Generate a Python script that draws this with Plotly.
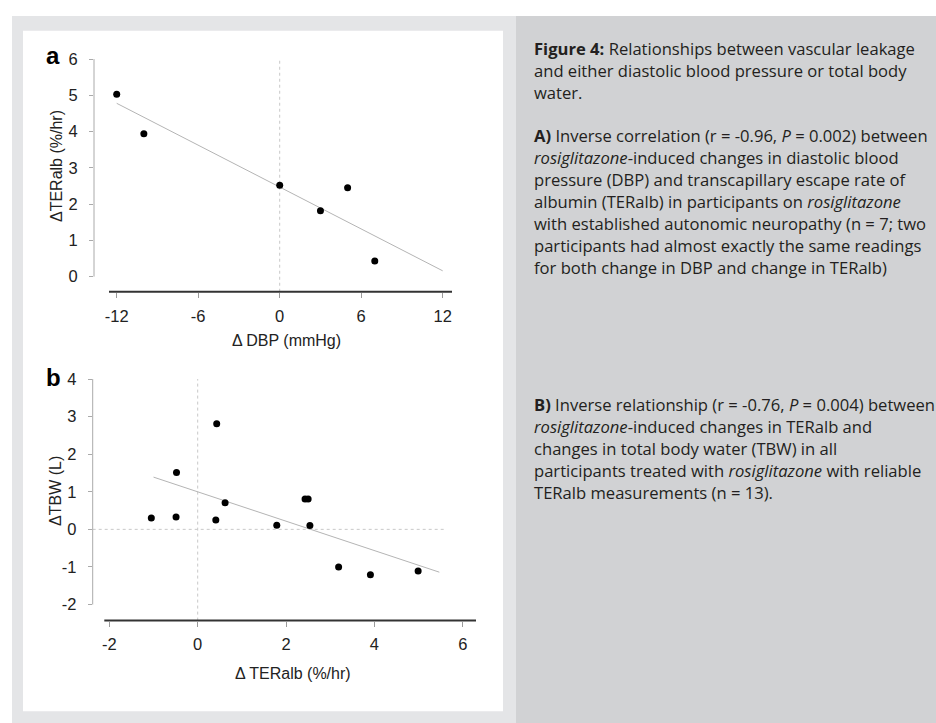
import plotly.graph_objects as go

# ---------------- data ----------------
# Panel a: change in DBP (mmHg) vs change in TERalb (%/hr)
dbp_change = [-12, -10, 0, 3, 5, 7]
teralb_change_a = [5.03, 3.94, 2.52, 1.82, 2.45, 0.43]
fit_a_x = [-12, 12]
fit_a_y = [4.78, 0.16]
a_xticks = [-12, -6, 0, 6, 12]
a_xticklabels = ["-12", "-6", "0", "6", "12"]
a_yticks = [0, 1, 2, 3, 4, 5, 6]
a_yticklabels = ["0", "1", "2", "3", "4", "5", "6"]

# Panel b: change in TERalb (%/hr) vs change in TBW (L)
teralb_change_b = [-1.05, -0.49, -0.48, 0.43, 0.41, 0.62, 1.79, 2.43, 2.50, 2.54, 3.19, 3.91, 4.99]
tbw_change = [0.30, 0.33, 1.51, 2.81, 0.25, 0.71, 0.11, 0.81, 0.81, 0.10, -1.00, -1.21, -1.11]
fit_b_x = [-1.0, 5.47]
fit_b_y = [1.39, -1.14]
b_xticks = [-2, 0, 2, 4, 6]
b_xticklabels = ["-2", "0", "2", "4", "6"]
b_yticks = [-2, -1, 0, 1, 2, 3, 4]
b_yticklabels = ["-2", "-1", "0", "1", "2", "3", "4"]

caption_head = [
    "<b>Figure 4:</b> Relationships between vascular leakage",
    "and either diastolic blood pressure or total body",
    "water.",
]
caption_a = [
    "<b>A)</b> Inverse correlation (r = -0.96, <i>P</i> = 0.002) between",
    "<i>rosiglitazone</i>-induced changes in diastolic blood",
    "pressure (DBP) and transcapillary escape rate of",
    "albumin (TERalb) in participants on <i>rosiglitazone</i>",
    "with established autonomic neuropathy (n = 7; two",
    "participants had almost exactly the same readings",
    "for both change in DBP and change in TERalb)",
]
caption_b = [
    "<b>B)</b> Inverse relationship (r = -0.76, <i>P</i> = 0.004) between",
    "<i>rosiglitazone</i>-induced changes in TERalb and",
    "changes in total body water (TBW) in all",
    "participants treated with <i>rosiglitazone</i> with reliable",
    "TERalb measurements (n = 13).",
]

# ---------------- layout helpers ----------------
W, H = 936, 723


def px(x):
    return x / W


def py(y):
    return 1 - y / H


CHART_FONT = "Liberation Sans, Arial, sans-serif"
CAP_FONT = "Open Sans, sans-serif"
TXT = "#222222"
SPINE = "#aaaaaa"
FIT = "#b4b4b4"
REF = "#c8c8c8"

fig = go.Figure()

fig.add_trace(go.Scatter(x=fit_a_x, y=fit_a_y, mode="lines",
                         line=dict(color=FIT, width=1), xaxis="x", yaxis="y",
                         showlegend=False, hoverinfo="skip"))
fig.add_trace(go.Scatter(x=dbp_change, y=teralb_change_a, mode="markers",
                         marker=dict(color="black", size=7), xaxis="x", yaxis="y",
                         showlegend=False))
fig.add_trace(go.Scatter(x=fit_b_x, y=fit_b_y, mode="lines",
                         line=dict(color=FIT, width=1), xaxis="x2", yaxis="y2",
                         showlegend=False, hoverinfo="skip"))
fig.add_trace(go.Scatter(x=teralb_change_b, y=tbw_change, mode="markers",
                         marker=dict(color="black", size=7), xaxis="x2", yaxis="y2",
                         showlegend=False))

tickfont = dict(family=CHART_FONT, size=16.5, color=TXT)
common_x = dict(showgrid=False, zeroline=False, showline=False, ticks="outside",
                ticklen=5, tickwidth=1, tickcolor="#9a9a9a", tickfont=tickfont,
                ticklabelstandoff=4, fixedrange=True, tickmode="array")
common_y = dict(showgrid=False, zeroline=False, showline=False, ticks="outside",
                ticklen=4, tickwidth=1, tickcolor=SPINE, tickfont=tickfont,
                ticklabelstandoff=8, fixedrange=True, tickmode="array")

fig.update_layout(
    width=W, height=H,
    margin=dict(l=0, r=0, t=0, b=0),
    paper_bgcolor="white",
    plot_bgcolor="rgba(0,0,0,0)",
    showlegend=False,
    xaxis=dict(domain=[px(94), px(452)], range=[-13.671, 12.685], anchor="y",
               tickvals=a_xticks, ticktext=a_xticklabels, **common_x),
    yaxis=dict(domain=[py(286.3), py(50.7)], range=[-0.417, 6], anchor="x",
               tickvals=a_yticks, ticktext=a_yticklabels, **common_y),
    xaxis2=dict(domain=[px(92.7), px(476)], range=[-2.377, 6.300], anchor="y2",
                tickvals=b_xticks, ticktext=b_xticklabels, **common_x),
    yaxis2=dict(domain=[py(619.3), py(374.7)], range=[-2.428, 4], anchor="x2",
                tickvals=b_yticks, ticktext=b_yticklabels, **common_y),
)

shapes = [
    # background panels
    dict(type="rect", xref="paper", yref="paper", x0=px(12), x1=px(516), y0=0, y1=py(7),
         fillcolor="#e4e5e7", line=dict(width=0), layer="below"),
    dict(type="rect", xref="paper", yref="paper", x0=px(23), x1=px(503), y0=py(711), y1=py(22),
         fillcolor="white", line=dict(width=0), layer="below"),
    dict(type="rect", xref="paper", yref="paper", x0=px(516), x1=1, y0=0, y1=py(7),
         fillcolor="#d1d2d4", line=dict(width=0), layer="below"),
    # panel a: y spine, x axis line, dashed reference at x = 0
    dict(type="line", xref="x domain", yref="y", x0=0, x1=0,
         y0=min(a_yticks), y1=max(a_yticks), line=dict(color=SPINE, width=1)),
    dict(type="line", xref="x domain", yref="y domain", x0=(109 - 94) / (452 - 94), x1=1,
         y0=0, y1=0, line=dict(color="#333333", width=2)),
    dict(type="line", xref="x", yref="y domain", x0=0, x1=0, y0=0, y1=1,
         line=dict(color=REF, width=1, dash="3px,3px"), layer="below"),
    # panel b
    dict(type="line", xref="x2 domain", yref="y2", x0=0, x1=0,
         y0=min(b_yticks), y1=max(b_yticks), line=dict(color=SPINE, width=1)),
    dict(type="line", xref="x2 domain", yref="y2 domain", x0=(104.3 - 92.7) / (476 - 92.7), x1=1,
         y0=0, y1=0, line=dict(color="#333333", width=2)),
    dict(type="line", xref="x2", yref="y2 domain", x0=0, x1=0, y0=0, y1=1,
         line=dict(color=REF, width=1, dash="3px,3px"), layer="below"),
    dict(type="line", xref="x2 domain", yref="y2", x0=0, x1=(446.7 - 92.7) / (476 - 92.7),
         y0=0, y1=0, line=dict(color=REF, width=1, dash="3px,3px"), layer="below"),
]
fig.update_layout(shapes=shapes)

ann = []
letterfont = dict(family=CHART_FONT, size=24, color="black")
ann.append(dict(text="<b>a</b>", x=px(53), y=py(47), xref="paper", yref="paper",
                xanchor="center", yanchor="middle", showarrow=False, font=letterfont))
ann.append(dict(text="<b>b</b>", x=px(53), y=py(373), xref="paper", yref="paper",
                xanchor="center", yanchor="middle", showarrow=False, font=letterfont))
titlefont = dict(family=CHART_FONT, size=16, color=TXT)
ann.append(dict(text="Δ DBP (mmHg)", x=px(286), y=py(336), xref="paper", yref="paper",
                xanchor="center", yanchor="middle", showarrow=False, font=titlefont))
ann.append(dict(text="Δ TERalb (%/hr)", x=px(293), y=py(673), xref="paper", yref="paper",
                xanchor="center", yanchor="middle", showarrow=False, font=titlefont))
ann.append(dict(text="ΔTERalb (%/hr)", x=px(56), y=py(159), xref="paper", yref="paper",
                xanchor="center", yanchor="middle", textangle=-90, showarrow=False, font=titlefont))
ann.append(dict(text="ΔTBW (L)", x=px(56), y=py(488), xref="paper", yref="paper",
                xanchor="center", yanchor="middle", textangle=-90, showarrow=False, font=titlefont))

# caption, one annotation per printed line
capfont = dict(family=CAP_FONT, size=16.6, color="#231f20")
LINE_H = 22.2
CAP_X = 532


def add_block(lines, first_baseline):
    for i, t in enumerate(lines):
        base = first_baseline + i * LINE_H
        ann.append(dict(text=t, x=px(CAP_X), y=py(base - 6.4), xref="paper", yref="paper",
                        xanchor="left", yanchor="middle", showarrow=False, font=capfont))


add_block(caption_head, 46.7)
add_block(caption_a, 135)
add_block(caption_b, 406.7)

fig.update_layout(annotations=ann)

# remove the browser's default 8px body margin so the figure fills the window exactly
fig.write_html("out.html", config={"displayModeBar": False},
               post_script="document.body.style.margin='0px';")
